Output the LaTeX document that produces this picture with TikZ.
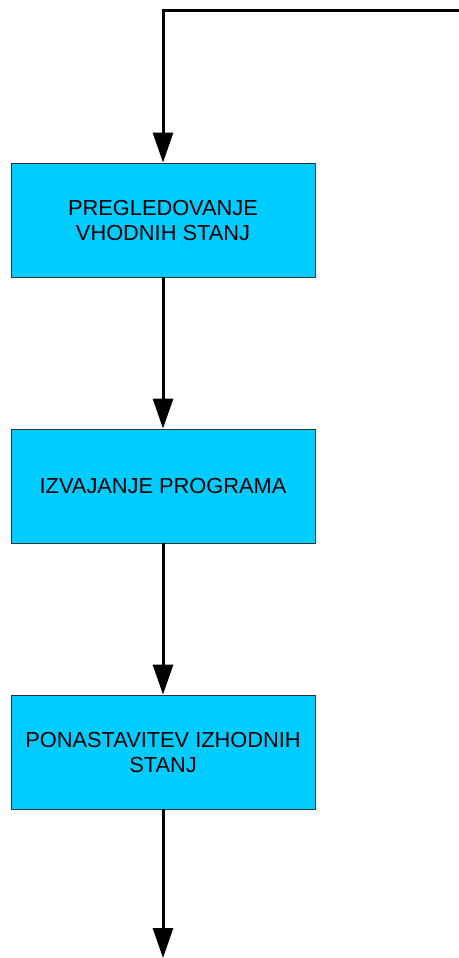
\documentclass[tikz,border=0pt]{standalone}
\usepackage{fontspec}
\setmainfont{Liberation Sans}
\usetikzlibrary{arrows.meta}
\definecolor{boxfill}{RGB}{0,204,255}
\begin{document}
\begin{tikzpicture}[x=1pt,y=1pt,
  stepbox/.style={draw=black!80, line width=0.8pt, fill=boxfill,
    minimum width=304pt, minimum height=114pt, inner sep=0pt,
    align=center, font=\fontsize{21.8}{25}\selectfont},
  flow/.style={line width=3pt, -{Triangle[width=20pt,length=30pt]}}]
  \useasboundingbox (0,0) rectangle (458,-958);
  \node[stepbox] (b1) at (163,-220) {PREGLEDOVANJE\\VHODNIH STANJ};
  \node[stepbox] (b2) at (163,-486) {IZVAJANJE PROGRAMA};
  \node[stepbox] (b3) at (163,-752) {PONASTAVITEV IZHODNIH\\STANJ};
  \coordinate (loop) at (460,-11);
  \coordinate (out) at (163,-958);
  \draw[flow] (loop) -| (b1.north);
  \draw[flow] (b1.south) -- (b2.north);
  \draw[flow] (b2.south) -- (b3.north);
  \draw[flow] (b3.south) -- (out);
\end{tikzpicture}
\end{document}
